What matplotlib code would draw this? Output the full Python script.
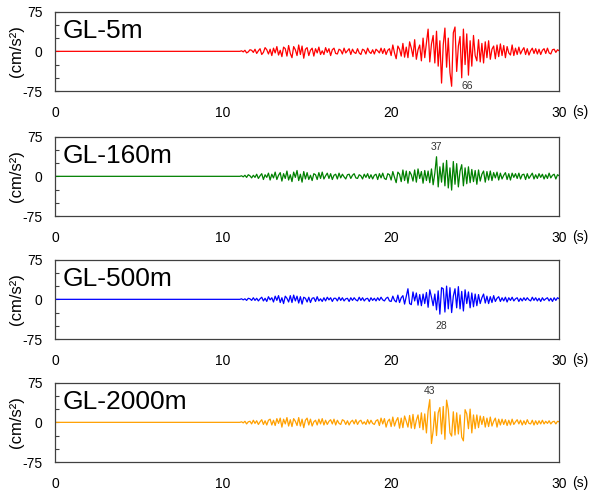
import numpy as np
import matplotlib
matplotlib.use("Agg")
from matplotlib import pyplot as plt

plt.rcParams["font.family"] = ["Liberation Sans", "DejaVu Sans"]

# sampled acceleration records (cm/s^2), one value every 0.1 s from 11.0 s to 30.0 s
# before 11.0 s all records are flat at zero
t_start = 11.0
dt = 0.1

gl5 = [0, 1, -1, 2, -3, -1, 3, 2, -2, 4,
       -4, 1, 5, -6, -2, 7, 3, -5, 4, -8,
       6, -3, 9, -7, 2, -10, 8, 5, -9, 11,
       -4, -12, 9, 3, -8, 12, -6, 10, -13, 4,
       7, -8, 2, 6, -9, 5, -3, 8, -6, 1,
       -6, 7, -2, 5, -8, 3, 6, -4, -5, 4,
       2, -5, 6, -3, 1, 5, -6, 4, -2, -4,
       5, -3, -6, 4, 2, -5, 6, -1, -4, 3,
       -5, 4, 1, -3, 6, -4, 5, -6, 2, 5,
       -8, 12, -3, -14, 10, 4, -9, 15, -11, 8,
       -12, 18, 6, -10, 22, -15, 3, 12, -18, 25,
       -12, 16, 42, -20, 14, 30, -22, 38, -28, 20,
       -60, 12, 44, -30, 25, -40, -66, 35, 46, -38,
       10, 28, -50, 42, -25, 33, -45, 20, -28, 30,
       -8, -18, 22, -20, 15, -22, 18, -12, 20, -15,
       4, 10, -14, 12, -10, 14, -8, 11, -12, 9,
       -3, -7, 12, -8, 6, -6, 8, -5, 2, 7,
       -6, 5, -7, 1, 6, -4, 5, -5, 4, -6,
       2, 5, -4, 6, -3, -5, 3, 4, -2, 3,
       1]

gl160 = [0, 1, -1, 2, -2, 3, 1, -3, 2, -2,
         4, -4, 1, 5, -6, 3, -2, 6, -7, 4,
         -3, 8, -6, 2, 7, -9, 5, -4, 10, -7,
         3, -10, 8, -2, 11, -8, 4, -11, 9, -5,
         7, -6, 2, -8, 5, 3, -6, 7, -4, 8,
         -5, 1, 6, -4, 5, -6, 2, 4, -5, 6,
         -3, 4, -1, -5, 3, 4, -4, 2, 5, -3,
         -4, 3, 1, -5, 4, -2, 5, -4, 3, -5,
         2, 4, -6, 5, -3, 6, -4, -6, 5, 3,
         -7, 9, -2, -12, 8, 4, -10, 12, -8, 10,
         -13, 9, 3, -9, 12, -11, 14, -4, 9, -13,
         11, -8, 10, -12, 14, -16, 6, 37, -20, 18,
         -11, 25, -18, 30, -22, 16, -26, 28, -15, 24,
         -20, 10, 22, -18, 16, -14, 18, -12, 13, -10,
         11, -15, 12, -9, 4, 10, -11, 9, -7, 10,
         -8, 7, -3, 8, -7, 6, -5, 2, 7, -6,
         5, -7, 6, -2, 5, -4, 6, -5, 3, 4,
         -6, 5, -4, 1, 6, -5, 3, -4, 5, -2,
         4, -5, 3, -4, 6, -3, 2, 4, -5, 3,
         1]

gl500 = [0, 1, -1, 1, -2, 2, 1, -2, 3, -2,
         2, -3, 1, 4, -3, 2, -4, 5, -1, 3,
         -5, 6, -2, 7, -6, 3, -8, 6, 2, -5,
         7, -6, 8, -3, 6, -7, 5, -9, 4, 2,
         -5, 4, -6, 2, 3, -4, 5, -3, 1, -4,
         3, -3, 4, -1, 3, -4, 2, 2, -3, 4,
         -2, 3, -3, 1, 2, -4, 3, -2, 3, -1,
         -3, 4, -2, 3, -3, 1, 2, -4, 3, -2,
         2, -3, 3, -2, 4, -1, -3, 2, 4, -3,
         -4, 6, -2, -5, 8, -6, 3, 7, -9, 6,
         20, -8, -10, 14, -3, 12, -11, 9, -12, 10,
         -8, 13, -15, 18, 4, -12, 10, -20, 16, -28,
         22, 20, -24, 25, -18, 22, -25, 6, 20, -16,
         24, -18, 15, -22, 18, -8, 14, -16, 12, -14,
         10, -12, 9, -8, 3, 10, -7, 6, -8, 5,
         -6, 7, -4, 2, 5, -4, 3, -3, 4, -5,
         3, -2, 4, -3, 1, 3, -4, 2, -3, 3,
         -2, 3, -1, -3, 4, -2, 3, -3, 2, -4,
         3, -2, 1, 3, -3, 2, -4, 3, -2, 3,
         1]

gl2000 = [0, 1, -1, 2, -3, 1, 2, -3, 4, -2,
          3, -4, 1, 5, -4, 3, -5, 4, 6, -5,
          4, -6, 7, -2, 8, -9, 6, -3, 9, -7,
          5, -8, 7, 2, -6, 9, -7, 6, -10, 4,
          8, -5, 6, -7, 1, 4, -5, 6, -3, 7,
          -5, 4, -4, 2, 5, -3, 6, -5, 4, -2,
          -4, 5, 3, -4, 3, -5, 1, 4, -3, 5,
          -4, 2, 4, -3, 1, -4, 5, -3, 4, -2,
          -4, 3, 5, -6, 8, -3, 7, -9, 2, 6,
          -8, 10, -7, 3, 9, -11, 8, -10, 12, 2,
          -9, 13, -11, 15, -12, 4, 14, -10, 18, -14,
          16, -20, 22, 43, -40, -16, 20, -25, 18, 28,
          -22, 30, -32, 42, 24, -20, -26, 20, -24, 18,
          -22, 14, -28, -35, 24, 16, -12, 25, -20, 14,
          -12, 14, -10, 12, -4, 11, -9, 8, -8, 10,
          -7, 2, 8, -9, 6, -5, 6, -4, 5, -6,
          4, -5, 6, -4, 1, 5, -3, 4, -5, 3,
          -4, 5, -2, -3, 4, -5, 3, -4, 3, -3,
          4, -3, 2, -2, 3, -3, 1, 2, -3, 2,
          1]

labels = ["GL-5m", "GL-160m", "GL-500m", "GL-2000m"]
records = [gl5, gl160, gl500, gl2000]
colors = ["#ff0000", "#008000", "#0000ff", "#ffa000"]
# peak value labels: (time, text y, text)
peak_notes = [(24.5, -65, "66"), (22.7, 55, "37"), (23.0, -51, "28"), (22.3, 60, "43")]

x_ticks = [0, 10, 20, 30]
y_ticks = [-75, -50, -25, 0, 25, 50, 75]
y_ticklabels = ["-75", "", "", "0", "", "", "75"]

fig = plt.figure(figsize=(5.89, 4.96), dpi=100)

# axes boxes in figure fraction: left, bottom, width, height
bottoms = [0.8165, 0.5645, 0.3165, 0.0685]

for i in range(4):
    ax = fig.add_axes([0.0934, bottoms[i], 0.856, 0.160])
    acc = np.array(records[i], dtype=float)
    t = t_start + dt * np.arange(len(acc))
    t = np.concatenate([[0.0], t])
    acc = np.concatenate([[0.0], acc])
    ax.plot(t, acc, color=colors[i], lw=0.9)

    ax.set_xlim(0, 30)
    ax.set_ylim(-75, 75)
    ax.set_xticks(x_ticks)
    ax.set_xticklabels([str(v) for v in x_ticks], fontsize=10)
    ax.set_yticks(y_ticks)
    ax.set_yticklabels(y_ticklabels, fontsize=10)
    ax.tick_params(axis="x", length=0, pad=11)
    ax.tick_params(axis="y", direction="in", length=3, pad=9, color="#404040")
    for sp in ax.spines.values():
        sp.set_color("#404040")
        sp.set_linewidth(0.9)

    ax.annotate("(s)", xy=(30, 0), xycoords=("data", "axes fraction"),
                xytext=(9, -15), textcoords="offset points",
                ha="left", va="center", fontsize=10)
    ax.set_ylabel("(cm/s²)", fontsize=12)
    ax.yaxis.set_label_coords(-0.062, 0.5)

    ax.text(0.016, 0.76, labels[i], transform=ax.transAxes,
            fontsize=19, ha="left", va="center")

    tx, ty, txt = peak_notes[i]
    ax.text(tx, ty, txt, fontsize=7.5, color="#333333", ha="center", va="center")

fig.savefig("out.png", dpi=100)
